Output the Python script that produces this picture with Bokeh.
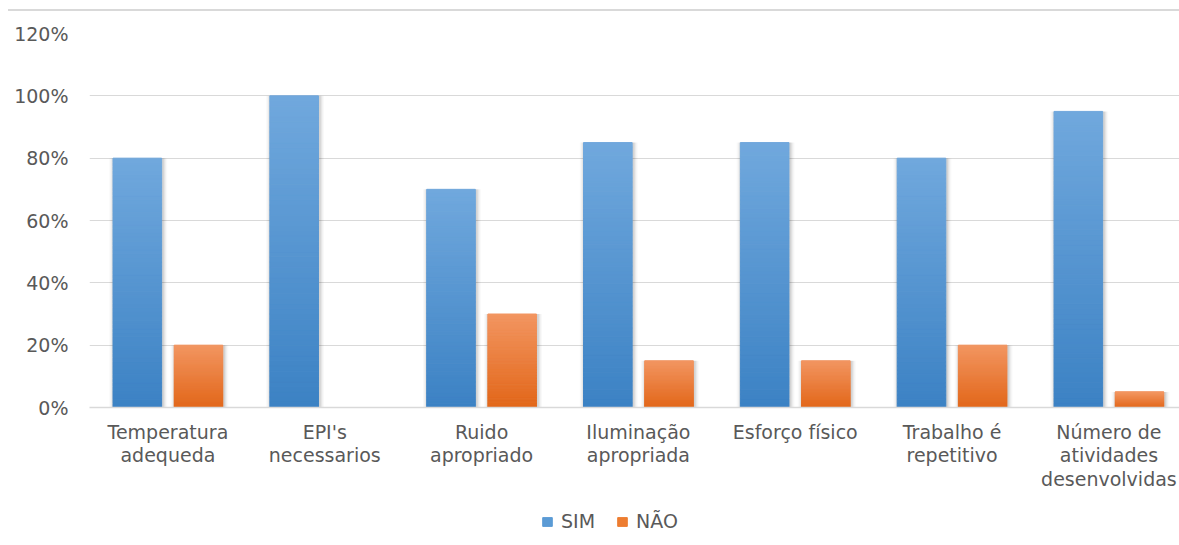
from bokeh.plotting import figure
from bokeh.models import (ColumnDataSource, FixedTicker, Legend, LegendItem,
                          NumeralTickFormatter, InlineStyleSheet)
from bokeh.layouts import column
from bokeh.embed import file_html
from bokeh.resources import INLINE

# ---- data ----
categories = ["Temperatura\nadequeda", "EPI's\nnecessarios", "Ruido\napropriado",
              "Iluminação\napropriada", "Esforço físico", "Trabalho é\nrepetitivo",
              "Número de\natividades\ndesenvolvidas"]
sim = [0.80, 1.00, 0.70, 0.85, 0.85, 0.80, 0.95]
nao = [0.20, 0.00, 0.30, 0.15, 0.15, 0.20, 0.05]
y_ticks = [0, 0.2, 0.4, 0.6, 0.8, 1.0, 1.2]
series = ["SIM", "NÃO"]

FONT = "DejaVu Sans"
TEXT = "#595959"
BLUE, ORANGE = "#5b9bd5", "#ed7d31"
BAR_W = 0.31
OFFSET = 0.195
N_STEPS = 60


def lerp(c1, c2, t):
    a = [int(c1[i:i + 2], 16) for i in (1, 3, 5)]
    b = [int(c2[i:i + 2], 16) for i in (1, 3, 5)]
    return "#%02x%02x%02x" % tuple(round(a[k] + (b[k] - a[k]) * t) for k in range(3))


def gradient_source(values, shift, top_col, bottom_col):
    xs, bottoms, tops, colors = [], [], [], []
    for i, v in enumerate(values):
        if v <= 0:
            continue
        for k in range(N_STEPS):
            xs.append(i + 0.5 + shift)
            bottoms.append(v * k / N_STEPS)
            tops.append(v * (k + 1) / N_STEPS)
            colors.append(lerp(bottom_col, top_col, k / (N_STEPS - 1)))
    return ColumnDataSource(dict(x=xs, bottom=bottoms, top=tops, color=colors))


# thin rule across the top of the chart
top_rule = InlineStyleSheet(css="""
:host::before {
  content: "";
  position: absolute;
  left: 8px; top: 9px;
  width: 1171px; height: 2px;
  background: #d9d9d9;
  z-index: 10;
}
""")

p = figure(width=1179, height=500, x_range=(0, 6.95), y_range=(0, 1.2),
           output_backend="svg", toolbar_location=None,
           min_border_left=89, min_border_right=0, min_border_top=33,
           min_border_bottom=93, outline_line_color=None,
           stylesheets=[top_rule])

# soft shadow behind bars
for values, shift in ((sim, -OFFSET), (nao, OFFSET)):
    xs = [i + 0.5 + shift + 0.006 for i, v in enumerate(values) if v > 0]
    tops = [v for v in values if v > 0]
    for grow, alpha in ((0.060, 0.025), (0.044, 0.035), (0.030, 0.05), (0.016, 0.07)):
        p.vbar(x=xs, top=tops, width=BAR_W + grow, bottom=0,
               fill_color="#000000", fill_alpha=alpha, line_color=None)

src_sim = gradient_source(sim, -OFFSET, "#70a8dd", "#3c82c4")
src_nao = gradient_source(nao, OFFSET, "#f29560", "#e2671a")
p.vbar(x="x", bottom="bottom", top="top", width=BAR_W, fill_color="color",
       line_color="color", line_width=1, source=src_sim)
p.vbar(x="x", bottom="bottom", top="top", width=BAR_W, fill_color="color",
       line_color="color", line_width=1, source=src_nao)

# axes
p.xaxis.ticker = FixedTicker(ticks=[i + 0.5 for i in range(len(categories))])
p.xaxis.major_label_overrides = {i + 0.5: c for i, c in enumerate(categories)}
p.xaxis.major_tick_line_color = None
p.xaxis.minor_tick_line_color = None
p.xaxis.axis_line_color = "#d9d9d9"
p.xaxis.axis_line_width = 1.5
p.xaxis.major_label_text_font = FONT
p.xaxis.major_label_text_font_size = "19px"
p.xaxis.major_label_text_color = TEXT
p.xaxis.major_label_standoff = 7
p.xaxis.major_label_text_line_height = 1.09

p.yaxis.ticker = FixedTicker(ticks=y_ticks)
p.yaxis.formatter = NumeralTickFormatter(format="0%")
p.yaxis.axis_line_color = None
p.yaxis.major_tick_line_color = None
p.yaxis.minor_tick_line_color = None
p.yaxis.major_label_text_font = FONT
p.yaxis.major_label_text_font_size = "19px"
p.yaxis.major_label_text_color = TEXT
p.yaxis.major_label_standoff = 15

p.xgrid.grid_line_color = None
p.ygrid.grid_line_color = "#d9d9d9"
p.ygrid.grid_line_width = 1

# legend strip under the chart
leg = figure(width=1179, height=45, x_range=(0, 1), y_range=(0, 1),
             output_backend="svg", toolbar_location=None,
             min_border=0, outline_line_color=None)
leg.axis.visible = False
leg.grid.visible = False
swatches = [leg.rect(x=[-1], y=[-1], width=1, height=1, color=c)
            for c in (BLUE, ORANGE)]
legend = Legend(items=[LegendItem(label=s, renderers=[r])
                       for s, r in zip(series, swatches)],
                orientation="horizontal", location=(452, 13),
                label_text_font=FONT, label_text_font_size="19px",
                label_text_color=TEXT, glyph_width=12, glyph_height=11,
                label_standoff=8, spacing=21, border_line_color=None,
                background_fill_alpha=0, margin=0, padding=0)
leg.add_layout(legend)

layout = column(p, leg, spacing=0)
open("out.html", "w").write(file_html(layout, INLINE))
